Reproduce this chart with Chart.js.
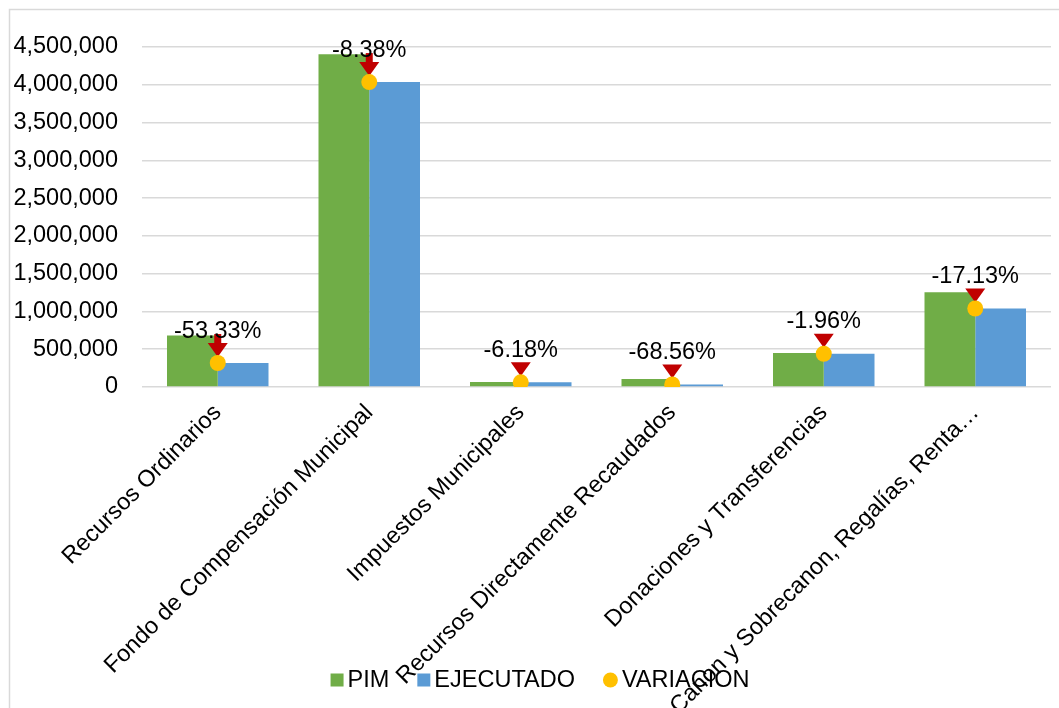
<!DOCTYPE html>
<html>
<head>
<meta charset="utf-8">
<title>PIM vs Ejecutado</title>
<script src="https://cdn.jsdelivr.net/npm/chart.js@4"></script>
<style>
  body { margin: 0; background: #fff; }
  canvas { display: block; }
</style>
</head>
<body>
<canvas id="fuentesChart" width="1059" height="708"></canvas>
<script>
// Datos
const categorias = [
  "Recursos Ordinarios",
  "Fondo de Compensación Municipal",
  "Impuestos Municipales",
  "Recursos Directamente Recaudados",
  "Donaciones y Transferencias",
  "Canon y Sobrecanon, Regalías, Renta…"
];
const pim = [680000, 4405000, 66000, 105000, 449000, 1254000];
const ejecutado = [317300, 4035900, 61900, 33000, 440200, 1039200];
const variacion = [-53.33, -8.38, -6.18, -68.56, -1.96, -17.13];
// las dos primeras flechas tienen "tallo", las demas solo el triangulo
const flechaConTallo = [true, true, false, false, false, false];
const ticksY = [0, 500000, 1000000, 1500000, 2000000, 2500000, 3000000, 3500000, 4000000, 4500000];

const fuente = "'Liberation Sans', Arial, sans-serif";
const tamFuente = 23.5;

// marco gris del grafico (solo se ve arriba y a la izquierda)
const marcoPlugin = {
  id: 'marco',
  beforeDraw(chart) {
    const ctx = chart.ctx;
    ctx.save();
    ctx.fillStyle = '#fff';
    ctx.fillRect(0, 0, chart.width, chart.height);
    ctx.strokeStyle = '#d9d9d9';
    ctx.lineWidth = 1.5;
    ctx.beginPath();
    ctx.moveTo(9.5, chart.height);
    ctx.lineTo(9.5, 9.5);
    ctx.lineTo(chart.width, 9.5);
    ctx.stroke();
    ctx.restore();
  }
};

// flechas rojas debajo del punto amarillo y etiquetas de variacion
const variacionPlugin = {
  id: 'variacion',
  beforeDatasetDraw(chart, args) {
    if (args.index !== 2) return;
    const ctx = chart.ctx;
    ctx.save();
    ctx.fillStyle = '#C00000';
    args.meta.data.forEach((pt, i) => {
      const x = pt.x, y = pt.y;
      ctx.beginPath();
      ctx.moveTo(x - 10, y - 20);
      ctx.lineTo(x + 10, y - 20);
      ctx.lineTo(x, y - 6);
      ctx.closePath();
      ctx.fill();
      if (flechaConTallo[i]) {
        ctx.fillRect(x - 3.5, y - 29, 7, 10);
      }
    });
    ctx.restore();
  },
  afterDatasetsDraw(chart) {
    const meta = chart.getDatasetMeta(2);
    const ctx = chart.ctx;
    ctx.save();
    ctx.font = tamFuente + 'px ' + fuente;
    ctx.fillStyle = '#000';
    ctx.textAlign = 'center';
    ctx.textBaseline = 'middle';
    meta.data.forEach((pt, i) => {
      ctx.fillText(variacion[i].toFixed(2) + '%', pt.x, pt.y - 32);
    });
    ctx.restore();
  }
};

// leyenda dibujada a mano: en el original queda encima de las etiquetas del eje
const leyendaPlugin = {
  id: 'leyenda',
  afterDraw(chart) {
    const ctx = chart.ctx;
    const ds = chart.data.datasets;
    const y = 680;
    ctx.save();
    ctx.font = tamFuente + 'px ' + fuente;
    ctx.textBaseline = 'middle';
    ctx.textAlign = 'left';
    // anchos de cada item
    const items = ds.map(d => {
      const simbolo = d.pointStyle === 'circle' ? 15 : 13;
      return { d, simbolo, ancho: simbolo + 4 + ctx.measureText(d.label).width };
    });
    const total = items.reduce((s, it) => s + it.ancho, 0) + 28 * (items.length - 1);
    let x = 540 - total / 2;
    items.forEach(it => {
      ctx.fillStyle = it.d.backgroundColor;
      if (it.d.pointStyle === 'circle') {
        ctx.beginPath();
        ctx.arc(x + 7.5, y, 7.5, 0, Math.PI * 2);
        ctx.fill();
      } else {
        ctx.fillRect(x, y - 6.5, 13, 13);
      }
      ctx.fillStyle = '#000';
      ctx.fillText(it.d.label, x + it.simbolo + 4, y + 1);
      x += it.ancho + 28;
    });
    ctx.restore();
  }
};

Chart.defaults.font.family = fuente;
Chart.defaults.font.size = tamFuente;
Chart.defaults.color = '#000';

new Chart(document.getElementById('fuentesChart'), {
  type: 'bar',
  data: {
    labels: categorias,
    datasets: [
      {
        label: 'PIM',
        data: pim,
        backgroundColor: '#70AD47',
        borderWidth: 0,
        pointStyle: 'rect',
        categoryPercentage: 0.67,
        barPercentage: 1.0
      },
      {
        label: 'EJECUTADO',
        data: ejecutado,
        backgroundColor: '#5B9BD5',
        borderWidth: 0,
        pointStyle: 'rect',
        categoryPercentage: 0.67,
        barPercentage: 1.0
      },
      {
        // el punto se ubica a la altura del ejecutado
        type: 'line',
        label: 'VARIACION',
        data: ejecutado,
        showLine: false,
        order: -1,
        backgroundColor: '#FFC000',
        borderColor: '#FFC000',
        borderWidth: 0,
        pointStyle: 'circle',
        pointRadius: 8,
        pointHoverRadius: 8,
        pointBackgroundColor: '#FFC000',
        pointBorderWidth: 0
      }
    ]
  },
  options: {
    responsive: false,
    animation: false,
    devicePixelRatio: 1,
    layout: { padding: { left: 10, right: 3, top: 47, bottom: 0 } },
    plugins: {
      tooltip: { enabled: false },
      legend: { display: false }
    },
    scales: {
      x: {
        grid: { display: false },
        border: { display: false },
        ticks: { autoSkip: false, maxRotation: 45, minRotation: 45, padding: 4 },
        afterFit(scale) { scale.height = 321; }
      },
      y: {
        min: 0,
        max: 4500000,
        grid: { color: '#d9d9d9', lineWidth: 1.5, drawTicks: false },
        border: { display: false },
        afterBuildTicks(scale) {
          scale.ticks = ticksY.map(v => ({ value: v }));
        },
        ticks: {
          padding: 24,
          callback: v => v.toLocaleString('en-US')
        },
        afterFit(scale) { scale.width = 132; }
      }
    }
  },
  plugins: [marcoPlugin, variacionPlugin, leyendaPlugin]
});
</script>
</body>
</html>
